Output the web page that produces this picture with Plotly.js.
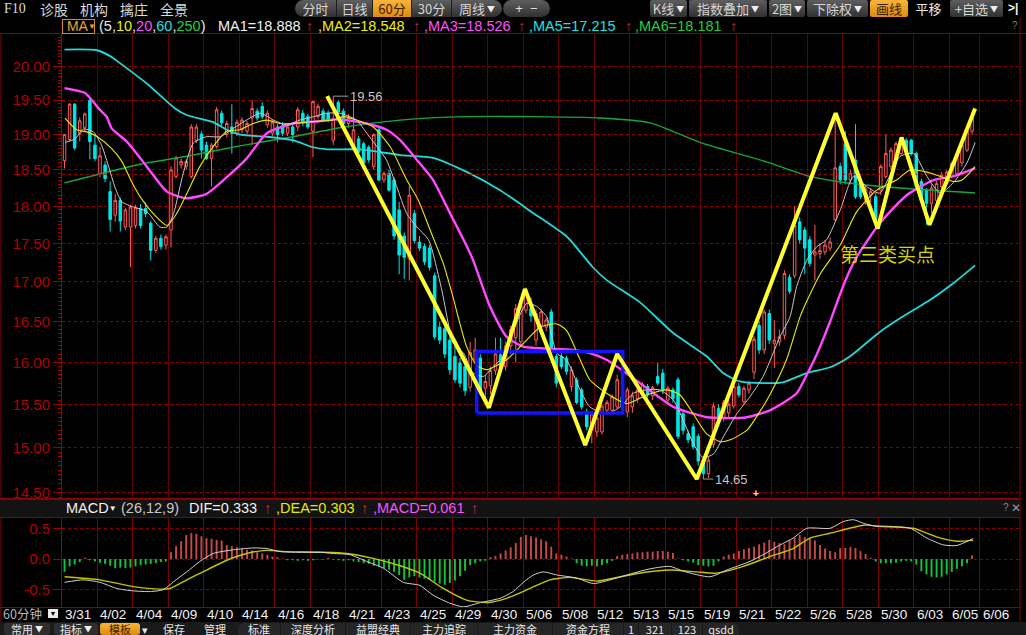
<!DOCTYPE html>
<html>
<head>
<meta charset="utf-8">
<script src="https://cdn.plot.ly/plotly-3.0.1.min.js"></script>
<style>
html,body{margin:0;padding:0;background:#000;width:1026px;height:635px;overflow:hidden;}
#chart{position:absolute;left:0;top:0;width:1026px;height:635px;}
.ov{position:absolute;z-index:10;white-space:nowrap;font-family:"Liberation Sans",Arial,sans-serif;pointer-events:none;}
.cn{font-family:"Noto Sans CJK SC","Liberation Sans",sans-serif;}
.grp{position:absolute;top:0;height:17px;border-radius:9px;overflow:hidden;background:linear-gradient(#5e5e5e,#303030);z-index:10;}
.b{position:absolute;top:0;height:17px;line-height:17px;font-size:13px;color:#d6d6d6;text-align:center;font-family:"Noto Sans CJK SC","Liberation Sans",sans-serif;border-right:1px solid #1e1e1e;box-sizing:border-box;}
.sq{position:absolute;top:0;height:17px;line-height:17px;font-size:13px;color:#d6d6d6;text-align:center;font-family:"Noto Sans CJK SC","Liberation Sans",sans-serif;background:linear-gradient(#5e5e5e,#303030);border-radius:2px;z-index:10;}
.or{background:linear-gradient(#f8b53a,#e08a10)!important;color:#3c1c00!important;}
.dd{font-size:8px;vertical-align:2px;margin-left:2px;color:#eee;}
.lg{position:absolute;top:18px;height:16px;line-height:16px;font-size:14.5px;z-index:10;white-space:nowrap;font-family:"Liberation Sans",Arial,sans-serif;}
.up{color:#d42a2a;}
.tab{position:absolute;top:623px;height:12px;line-height:12px;font-size:11px;color:#e6e6e6;text-align:center;font-family:"Noto Sans CJK SC","Liberation Sans",sans-serif;z-index:10;white-space:nowrap;}
</style>
</head>
<body>
<div id="chart"></div>

<!-- top toolbar -->
<div class="ov" style="left:4px;top:0;line-height:18px;font-size:14px;color:#dadada;font-family:'Liberation Serif',serif;">F10</div>
<div class="ov cn" style="left:40px;top:0;line-height:18px;font-size:14px;color:#dadada;">诊股</div>
<div class="ov cn" style="left:80px;top:0;line-height:18px;font-size:14px;color:#dadada;">机构</div>
<div class="ov cn" style="left:120px;top:0;line-height:18px;font-size:14px;color:#dadada;">擒庄</div>
<div class="ov cn" style="left:160px;top:0;line-height:18px;font-size:14px;color:#dadada;">全景</div>
<div class="grp" style="left:295px;width:207px;">
  <div class="b" style="left:0;width:42px;">分时</div>
  <div class="b" style="left:42px;width:36px;">日线</div>
  <div class="b or" style="left:78px;width:39px;">60分</div>
  <div class="b" style="left:117px;width:40px;">30分</div>
  <div class="b" style="left:157px;width:50px;border-right:none;">周线<span class="dd">▼</span></div>
</div>
<div class="ov" style="left:503px;top:0;width:47px;height:17px;border-radius:9px;background:linear-gradient(#5e5e5e,#303030);"></div>
<div class="ov" style="left:503px;top:1px;width:47px;line-height:15px;font-size:13px;color:#e0e0e0;text-align:center;">+&nbsp;&nbsp;−</div>
<div class="sq" style="left:650px;width:37px;">K线<span class="dd">▼</span></div>
<div class="sq" style="left:689px;width:78px;">指数叠加<span class="dd">▼</span></div>
<div class="sq" style="left:769px;width:36px;">2图<span class="dd">▼</span></div>
<div class="sq" style="left:807px;width:61px;">下除权<span class="dd">▼</span></div>
<div class="sq or" style="left:870px;width:38px;">画线</div>
<div class="ov cn" style="left:910px;top:0;width:37px;line-height:17px;font-size:13px;color:#e8e8e8;text-align:center;">平移</div>
<div class="sq" style="left:950px;width:53px;">+自选<span class="dd">▼</span></div>
<div class="ov" style="left:1008px;top:0;line-height:17px;font-size:12px;font-weight:bold;color:#f0f0f0;">&gt;|</div>

<!-- moving average legend row -->
<div class="lg" style="left:62px;top:19px;width:31px;height:13px;line-height:13px;border:1px solid #d88a1a;color:#f0a030;font-size:14px;">&nbsp;MA<span style="font-size:8px;vertical-align:2px;color:#f0a030;">▼</span></div>
<div class="lg" style="left:99px;color:#e8e8e8;">(5,<span style="color:#f0f000">10</span>,<span style="color:#ff50ff">20</span>,<span style="color:#20e0e0">60</span>,<span style="color:#20d040">250</span>)</div>
<div class="lg" style="left:218px;color:#f0f0f0;">MA1=18.888</div>
<div class="lg up" style="left:306px;">↑</div>
<div class="lg" style="left:318px;color:#f0f000;">,MA2=18.548</div>
<div class="lg up" style="left:413px;">↑</div>
<div class="lg" style="left:424px;color:#ff50ff;">,MA3=18.526</div>
<div class="lg up" style="left:518px;">↑</div>
<div class="lg" style="left:529px;color:#20e0e0;">,MA5=17.215</div>
<div class="lg up" style="left:625px;">↑</div>
<div class="lg" style="left:635px;color:#20d040;">,MA6=18.181</div>
<div class="lg up" style="left:730px;">↑</div>
<div class="ov" style="left:1012px;top:20px;font-size:10px;color:#777;">?</div>

<!-- resize handle -->
<div class="ov" style="left:753px;top:488px;font-size:10px;font-weight:bold;color:#f0f0f0;">+</div>

<!-- MACD header -->
<div class="ov" style="left:0;top:499px;width:1020px;height:17px;background:#131313;border-top:1px solid #8c0000;border-bottom:1px solid #8c0000;z-index:8;"></div>
<div class="lg" style="top:500px;left:66px;color:#f0f0f0;">MACD<span style="font-size:8px;vertical-align:2px;">▼</span></div>
<div class="lg" style="top:500px;left:121px;color:#c8c8c8;">(26,12,9)</div>
<div class="lg" style="top:500px;left:189px;color:#f0f0f0;">DIF=0.333</div>
<div class="lg up" style="top:500px;left:264px;">↑</div>
<div class="lg" style="top:500px;left:276px;color:#e8e800;">,DEA=0.303</div>
<div class="lg up" style="top:500px;left:361px;">↑</div>
<div class="lg" style="top:500px;left:373px;color:#ff50ff;">,MACD=0.061</div>
<div class="lg up" style="top:500px;left:471px;">↑</div>
<div class="ov" style="left:1003px;top:502px;font-size:10px;color:#888;">?</div>
<div class="ov" style="left:1011px;top:501px;font-size:12px;color:#999;">✕</div>

<!-- period selector -->
<div class="ov cn" style="left:3px;top:607px;line-height:13px;font-size:12.5px;color:#b8b8b8;">60分钟</div>
<div class="ov" style="left:48px;top:609px;width:10px;height:9px;line-height:9px;background:#e8e8e8;color:#000;font-size:7px;text-align:center;">▼</div>

<!-- bottom toolbar -->
<div class="ov" style="left:0;top:622px;width:1026px;height:13px;background:#1a1a1a;z-index:9;"></div>
<div class="tab" style="left:4px;width:46px;background:#2e2e2e;border-radius:3px;">常用<span class="dd">▼</span></div>
<div class="tab" style="left:54px;width:44px;background:#2e2e2e;border-radius:3px;">指标<span class="dd">▼</span></div>
<div class="tab" style="left:100px;width:40px;background:linear-gradient(#f8b53a,#e08a10);color:#3c1c00;border-radius:3px;">模板</div>
<div class="tab" style="left:140px;width:10px;">▾</div>
<div class="tab" style="left:158px;width:32px;">保存</div>
<div class="tab" style="left:198px;width:34px;">管理</div>
<div class="tab" style="left:238px;width:42px;background:#262626;border-radius:6px 0 0 0;">标准</div>
<div class="tab" style="left:281px;width:64px;background:#262626;">深度分析</div>
<div class="tab" style="left:346px;width:64px;background:#262626;">益盟经典</div>
<div class="tab" style="left:411px;width:66px;background:#262626;">主力追踪</div>
<div class="tab" style="left:478px;width:74px;background:#262626;">主力资金</div>
<div class="tab" style="left:553px;width:70px;background:#262626;">资金方程</div>
<div class="tab" style="left:624px;width:14px;background:#262626;">1</div>
<div class="tab" style="left:639px;width:32px;background:#262626;">321</div>
<div class="tab" style="left:672px;width:30px;background:#262626;">123</div>
<div class="tab" style="left:703px;width:36px;background:#262626;border-radius:0 6px 0 0;">qsdd</div>

<script>
// ---- 60-minute bars ----
const opens = [18.63,18.93,19.44,19.02,19.10,19.50,18.85,18.45,18.57,18.20,17.88,18.08,17.72,17.72,17.74,17.97,17.97,17.77,17.41,17.57,
17.48,17.68,18.41,18.57,18.55,18.41,18.92,19.01,18.85,18.66,18.83,19.31,19.00,19.11,19.02,19.07,19.05,19.24,19.34,19.41,
19.14,19.02,19.11,19.13,19.02,19.11,19.11,19.31,19.26,19.05,19.26,19.34,19.31,18.92,19.47,19.34,19.16,18.83,18.94,18.87,
18.82,18.55,19.07,18.36,18.45,18.36,17.95,17.60,17.30,17.90,17.52,17.46,17.44,17.08,16.43,16.41,16.27,16.07,15.99,15.95,
15.70,16.03,16.05,15.69,15.72,15.90,16.09,15.95,16.20,16.30,16.25,16.64,16.66,16.27,16.45,16.43,16.62,16.07,16.07,16.05,
15.71,15.79,15.67,15.41,15.20,15.18,15.18,15.43,15.43,15.47,15.59,15.41,15.47,15.57,15.61,15.71,15.60,15.83,15.87,15.55,
15.67,15.79,15.39,15.16,15.24,15.13,14.86,14.71,15.04,15.45,15.34,15.40,15.48,15.71,15.53,15.67,15.88,16.45,16.15,16.60,
16.23,16.25,16.33,17.06,17.08,17.79,17.68,17.55,17.35,17.37,17.39,17.44,17.82,18.55,18.87,18.36,18.64,18.29,18.08,18.15,
18.13,18.22,18.41,18.55,18.68,18.73,18.92,18.92,18.73,18.34,18.22,18.04,18.08,18.27,18.31,18.41,18.45,18.60,18.78,19.05];
const highs = [19.01,19.46,19.46,19.25,19.32,19.53,19.00,18.83,18.62,18.34,18.17,18.12,17.98,18.02,18.02,18.03,18.05,17.80,17.60,17.62,
17.62,18.55,18.70,18.66,18.65,19.15,19.15,19.05,18.90,18.88,19.40,19.35,19.20,19.44,19.22,19.25,19.20,19.50,19.38,19.47,
19.35,19.22,19.15,19.18,19.15,19.15,19.40,19.36,19.30,19.50,19.45,19.38,19.35,19.56,19.50,19.38,19.30,19.50,18.98,18.90,
18.85,19.02,19.10,18.48,18.50,18.40,18.06,17.65,18.28,17.95,17.60,17.50,17.48,17.12,16.50,16.45,16.32,16.25,16.05,16.00,
16.25,16.30,16.10,15.85,15.95,16.30,16.30,16.25,16.45,16.72,16.80,16.93,16.80,16.65,16.66,16.55,16.66,16.10,16.12,16.08,
15.95,15.82,15.70,15.45,15.42,15.36,15.50,15.55,15.62,15.85,15.65,15.70,15.65,15.70,15.76,15.74,15.72,15.99,15.92,15.72,
15.70,15.82,15.42,15.20,15.28,15.16,14.90,14.90,15.52,15.50,15.55,15.55,15.75,15.75,15.72,15.78,16.32,16.50,16.65,16.65,
16.52,16.40,17.15,17.10,18.00,17.85,17.72,17.60,17.75,17.50,17.55,17.58,19.28,18.60,19.05,18.50,19.15,18.32,18.28,18.25,
18.18,18.58,19.00,18.82,18.90,18.96,18.95,18.94,18.76,18.38,18.25,18.30,18.35,18.47,18.50,18.62,18.75,18.88,19.08,19.32];
const lows = [18.52,18.90,18.78,18.90,19.05,18.65,18.62,18.40,18.33,17.66,17.79,17.66,17.68,17.19,17.70,17.70,17.85,17.28,17.38,17.42,
17.42,17.45,18.38,18.52,18.50,18.38,18.88,18.66,18.64,18.27,18.80,19.12,18.96,18.73,18.98,19.02,19.00,18.85,19.20,19.22,
19.10,18.98,18.89,18.98,18.98,18.89,19.05,19.12,19.08,18.68,19.22,19.18,19.18,18.85,19.30,19.14,19.10,18.80,18.72,18.58,
18.60,18.50,18.34,18.32,18.20,17.55,17.10,17.04,17.02,17.50,17.40,17.22,17.15,16.28,16.22,16.05,15.85,15.75,15.70,15.60,
15.65,15.98,15.60,15.55,15.62,15.85,15.88,15.90,16.10,16.00,16.20,16.60,16.50,16.20,16.40,16.38,16.10,15.70,15.92,15.85,
15.65,15.50,15.44,15.20,15.05,15.12,15.15,15.40,15.40,15.45,15.45,15.35,15.40,15.52,15.58,15.58,15.55,15.72,15.62,15.50,
15.52,15.10,15.15,15.05,14.98,14.80,14.65,14.66,15.00,15.30,15.30,15.35,15.45,15.58,15.50,15.62,15.80,16.10,16.10,16.22,
15.93,16.20,16.28,16.85,17.05,17.50,17.10,17.20,17.02,17.30,17.35,17.40,17.80,18.30,18.30,18.30,18.10,18.10,18.02,18.05,
17.70,18.15,18.38,18.50,18.62,18.70,18.70,18.70,18.24,18.04,17.75,17.90,18.02,18.22,18.28,18.38,18.42,18.55,18.75,19.00];
const closes = [19.00,19.44,18.81,19.20,19.30,18.90,18.66,18.70,18.38,17.82,18.08,17.80,17.95,17.99,17.98,17.74,17.90,17.41,17.57,17.46,
17.59,18.50,18.67,18.62,18.62,19.11,19.11,18.78,18.66,18.85,19.36,19.17,19.16,19.02,19.18,19.21,19.16,19.38,19.24,19.26,
19.31,19.18,19.00,19.02,19.11,19.00,19.36,19.17,19.11,19.48,19.41,19.21,19.21,19.23,19.33,19.16,19.25,19.07,18.75,18.60,
18.64,19.00,18.36,18.45,18.22,17.60,17.35,17.32,18.15,17.54,17.44,17.26,17.19,16.31,16.27,16.10,15.91,15.79,15.75,15.66,
16.12,16.15,15.67,15.77,15.90,16.10,15.95,16.20,16.40,16.66,16.70,16.90,16.57,16.60,16.62,16.52,16.13,15.75,15.95,15.89,
15.91,15.52,15.47,15.24,15.39,15.34,15.48,15.52,15.59,15.79,15.47,15.67,15.60,15.67,15.73,15.61,15.70,15.75,15.67,15.69,
15.57,15.13,15.20,15.09,15.01,14.85,14.71,14.86,15.48,15.35,15.52,15.50,15.71,15.61,15.69,15.75,16.28,16.15,16.62,16.27,
16.27,16.31,17.11,16.88,17.74,17.55,17.44,17.24,17.39,17.41,17.48,17.52,18.53,18.36,18.36,18.45,18.13,18.13,18.24,18.20,
17.81,18.55,18.73,18.78,18.87,18.92,18.75,18.73,18.27,18.08,18.04,18.25,18.31,18.43,18.47,18.59,18.70,18.85,19.05,19.25];

// ---- moving averages (bar position, value) ----
const ma5X = [0.1,2.1,3.7,5.7,7.3,8.6,10,11.3,13.6,16.2,18.8,20.2,21.5,23.4,25.4,28,30.7,33.3,35.9,38.6,41.2,43.8,46.4,49.1,51.7,54.3,57.6,59.6,61.6,63.5,65.5,67.5,69.5,71.8,74.4,76.7,78.7,80.6,82.6,84.6,86.5,88.5,91.2,93.1,95.1,97.1,99,101.7,103.6,106.9,109.6,112.2,114.8,117.4,120.1,122,124,125.9,128,129.9,132.6,135.2,137.8,141.1,143.1,144.4,146.4,148.4,150.3,153,155.6,158.2,160.8,164.8,167.5,170.1,172.7,175.3,178,179.6];
const ma5Y = [18.89,18.94,19.08,19.04,18.85,18.57,18.25,18.06,17.99,17.93,17.72,17.72,17.90,18.45,18.88,18.97,18.97,19.09,19.21,19.31,19.21,19.14,19.21,19.26,19.31,19.31,19.21,19.02,18.83,18.64,18.27,17.90,17.72,17.55,16.90,16.23,16.11,15.87,15.83,15.95,16.07,16.39,16.73,16.69,16.56,16.11,16.03,15.67,15.47,15.39,15.47,15.63,15.67,15.67,15.55,15.32,15.05,14.89,14.93,15.12,15.39,15.59,15.83,16.31,16.56,16.94,17.28,17.46,17.55,17.95,18.41,18.27,18.18,18.69,18.73,18.41,18.18,18.32,18.60,18.888];
const ma10X = [0.1,2.4,4.4,6.7,9.3,11.3,13.2,15.2,17.5,20.2,22.1,24.1,26.7,29.3,32,34.6,37.2,39.9,42.5,45.1,49.1,53,55,57.6,60.9,64.2,67.5,69.8,72.4,74.7,76.4,79.3,81.3,83.3,85.2,87.2,90.5,93.8,97.1,99,101.7,103.6,106.9,110.9,114.8,118.8,121.4,124,126.6,129.3,131.3,134.6,137.3,139.1,142.4,145.2,149.1,153,156.2,160.2,164.1,166.8,170.1,172.7,175.3,177,179.6];
const ma10Y = [19.24,19.07,19.04,18.96,18.80,18.62,18.34,18.10,17.90,17.74,17.90,18.17,18.55,18.83,19.05,19.07,19.16,19.21,19.16,19.16,19.19,19.21,19.26,19.21,19.11,18.83,18.36,18.08,17.63,17.24,16.86,16.19,15.96,15.91,15.96,16.03,16.23,16.43,16.47,16.39,16.03,15.79,15.63,15.51,15.61,15.67,15.61,15.39,15.16,15.07,15.09,15.20,15.43,15.61,16.03,16.58,17.11,17.48,17.92,18.22,18.36,18.50,18.47,18.41,18.34,18.36,18.548];
const ma20X = [0,4,5.4,6.7,8.3,9.3,12.3,16.2,20.2,24.1,28,32,35.9,39.9,45.1,49.7,54.3,59.6,63.5,66.2,69.5,72.7,76,79.3,80.6,83.9,87.2,90.5,93.8,100.4,103.6,106.9,113.5,120.1,126.7,130,134.6,139.1,144.4,146.4,148.4,151,153,154.9,156.2,160.8,166.1,171.4,175.2,179.6];
const ma20Y = [19.68,19.61,19.50,19.38,19.26,19.09,18.90,18.55,18.20,18.11,18.17,18.40,18.66,19.02,19.16,19.19,19.22,19.16,19.07,18.92,18.64,18.36,17.91,17.47,17.28,16.69,16.31,16.19,16.17,16.15,16.11,16.03,15.75,15.47,15.35,15.34,15.35,15.43,15.63,15.85,16.10,16.50,16.85,17.15,17.32,17.77,18.15,18.36,18.41,18.526];
const ma60X = [0,6.4,9,11,16.5,21.8,24.2,29.3,32,34.6,40,45,49,51.8,58.3,66.2,72.7,79.4,85.9,92.4,99.1,104.2,107,113.5,120,126.7,129.9,133.2,139.1,141.7,146.4,151,154.9,160.8,165.8,170.7,175.6,179.6];
const ma60Y = [20.26,20.25,20.16,20.05,19.73,19.38,19.28,19.18,19.07,19.00,18.97,18.92,18.82,18.79,18.79,18.71,18.67,18.47,18.22,17.91,17.59,17.19,17.02,16.74,16.36,16.07,15.87,15.77,15.75,15.76,15.87,15.94,16.07,16.37,16.58,16.77,17.00,17.215];
const ma250X = [0,14.9,24.7,34.6,45.1,54.3,66.2,79.4,92.4,105.6,115.5,125.3,138.6,147,153.5,164.8,179.6];
const ma250Y = [18.32,18.58,18.70,18.84,18.97,19.10,19.21,19.26,19.26,19.24,19.17,18.89,18.61,18.41,18.33,18.25,18.181];

// ---- MACD (26,12,9) ----
const macdHist = [-0.21,-0.12,-0.09,-0.05,0.02,-0.02,-0.04,-0.06,-0.08,-0.11,-0.15,-0.14,-0.15,-0.14,-0.12,-0.10,-0.09,-0.08,-0.07,-0.05,-0.04,
0.11,0.21,0.29,0.39,0.42,0.41,0.37,0.34,0.33,0.31,0.30,0.23,0.21,0.19,0.17,0.15,0.14,0.11,0.09,0.07,0.04,0.03,0.01,
-0.02,-0.02,-0.03,-0.02,-0.03,-0.02,-0.01,-0.01,0.02,-0.01,-0.02,-0.03,-0.02,-0.04,-0.05,-0.07,-0.08,
-0.11,-0.12,-0.15,-0.17,-0.21,-0.26,-0.34,-0.30,-0.28,-0.30,-0.32,-0.34,-0.37,-0.40,-0.42,-0.39,-0.35,-0.28,-0.19,-0.10,-0.07,-0.04,-0.03,
0.03,0.05,0.09,0.14,0.19,0.26,0.36,0.39,0.37,0.35,0.32,0.29,0.20,0.09,0.07,0.04,0.01,
-0.07,-0.11,-0.12,-0.11,-0.12,-0.10,-0.07,-0.03,
0.05,0.07,0.08,0.09,0.11,0.11,0.12,0.12,0.13,0.13,0.12,0.10,0.01,
-0.02,-0.04,-0.06,-0.10,-0.11,-0.12,-0.11,-0.04,
0.04,0.07,0.09,0.13,0.16,0.18,0.20,0.24,0.27,0.31,0.28,0.26,0.24,0.31,0.35,0.39,0.36,0.34,0.30,0.23,0.17,0.13,0.11,0.18,0.18,0.20,0.18,0.13,0.08,0.02,
-0.04,-0.07,-0.07,-0.07,-0.06,-0.04,-0.03,-0.04,-0.09,-0.20,-0.25,-0.29,-0.30,-0.29,-0.25,-0.21,-0.16,-0.12,-0.07,
0.061];
const difX = [0,3.7,7,10.3,13.6,16.9,19.5,21.5,24.1,26.7,29.3,33.3,37.2,39.9,42.5,46.4,50.4,53,56.3,59.6,62.9,66.8,70.1,72.7,76,78.7,82,85.9,88.5,90.5,92.5,94.4,97.1,101,104.3,107.6,110.9,115.5,119.4,122.1,127.3,130.6,135.2,137.8,140.5,143.7,146.4,151,153.6,155.6,157.6,160.2,166.8,170.1,173.3,176,179.2];
const difY = [-0.38,-0.34,-0.38,-0.48,-0.52,-0.53,-0.50,-0.37,-0.21,-0.04,0.09,0.15,0.18,0.17,0.12,0.11,0.11,0.09,0.07,-0.04,-0.15,-0.38,-0.43,-0.59,-0.72,-0.78,-0.71,-0.64,-0.53,-0.38,-0.26,-0.21,-0.26,-0.31,-0.40,-0.34,-0.26,-0.16,-0.12,-0.20,-0.29,-0.18,-0.04,0.07,0.20,0.34,0.50,0.50,0.61,0.64,0.58,0.53,0.50,0.34,0.23,0.22,0.333];
const deaX = [0,7,13.6,18.8,20.8,24.1,28,32,35.9,39.9,43.8,50.4,55.7,60.9,66.2,70.1,74.7,79.3,83.3,87.2,91.8,95.7,99.7,105,109.6,114.2,119.4,124.7,128.6,133.9,139.1,143.7,147,151,157.6,160.2,167.4,172,176,179.2];
const deaY = [-0.29,-0.34,-0.45,-0.49,-0.48,-0.34,-0.18,-0.02,0.09,0.14,0.12,0.11,0.09,0.01,-0.11,-0.23,-0.48,-0.67,-0.71,-0.64,-0.48,-0.34,-0.30,-0.36,-0.29,-0.22,-0.18,-0.21,-0.23,-0.12,0.04,0.17,0.34,0.42,0.55,0.54,0.50,0.36,0.29,0.303];

// ---- hand-drawn wave strokes and pivot box ----
const waveX = [51.8,83.7,90.8,102.7,109.0,124.7,152.1,160.4,165.1,170.6,179.6];
const waveY = [19.56,15.46,16.91,15.03,16.10,14.65,19.31,17.70,18.96,17.75,19.38];
const boxX = [81.3,110.1];
const boxY = [15.40,16.13];
const refPrice = 18.44;
const highMark = {bar: 53, price: 19.56};
const lowMark = {bar: 126, price: 14.65};
const buyNote = {bar: 152.6, price: 17.37, text: '第三类买点'};

// ---- date axis ----
const tickLabels = ['3/31','4/02','4/04','4/09','4/10','4/14','4/16','4/18','4/21','4/23','4/25','4/29','4/30','5/06','5/08','5/12','5/13','5/15','5/19','5/21','5/22','5/26','5/28','5/30','6/03','6/05','6/06'];
const tickBars = [-0.5,6.5,13.5,20.5,27.5,34.5,41.5,48.5,55.5,62.5,69.5,76.5,83.5,90.5,97.5,104.5,111.5,118.5,125.5,132.5,139.5,146.5,153.5,160.5,167.5,174.5,180.5];
const priceTicks = [14.5,15,15.5,16,16.5,17,17.5,18,18.5,19,19.5,20];
const macdTicks = [-0.5,0,0.5];

// ---- geometry of the window ----
const W = 1026, H = 635;
const px = v => v / W;
const py = v => 1 - v / H;
const plotLeft = 62, plotRight = 1020, barPx = 5.07;
const xRange = [-0.5, -0.5 + (plotRight - plotLeft) / barPx];
const mainTop = 34, mainBottom = 498, pxPerDecade = 3050, ref20y = 66.7;
const yRange = [Math.log10(20) - (mainBottom - ref20y) / pxPerDecade, Math.log10(20) + (ref20y - mainTop) / pxPerDecade];
const macdTop = 518, macdBottom = 607, macdZeroY = 559, macdPxPerUnit = 61.4;
const y2Range = [-(macdBottom - macdZeroY) / macdPxPerUnit, (macdZeroY - macdTop) / macdPxPerUnit];

const bars = opens.map((_, i) => i);
const FONT = 'Liberation Sans, Arial, sans-serif';

const maLine = (x, y, color, width) => ({
  type: 'scatter', mode: 'lines', x: x, y: y, xaxis: 'x', yaxis: 'y',
  line: {color: color, width: width, shape: 'spline', smoothing: 0.6}, hoverinfo: 'skip'
});

const traces = [
  maLine(ma250X, ma250Y, '#14a83a', 1.4),
  maLine(ma60X, ma60Y, '#22d8d8', 1.8),
  {type: 'scatter', mode: 'lines', x: [xRange[0], xRange[1]], y: [refPrice, refPrice], xaxis: 'x', yaxis: 'y',
   line: {color: '#b00000', width: 1, dash: '3px,3px'}, hoverinfo: 'skip'},
  {type: 'candlestick', x: bars, open: opens, high: highs, low: lows, close: closes, xaxis: 'x', yaxis: 'y',
   whiskerwidth: 0,
   increasing: {line: {color: '#ff5c5c', width: 1}, fillcolor: '#000000'},
   decreasing: {line: {color: '#00e6e6', width: 1}, fillcolor: '#00e6e6'},
   hoverinfo: 'skip'},
  maLine(ma20X, ma20Y, '#ff48ff', 2.4),
  maLine(ma10X, ma10Y, '#ecec00', 1.1),
  maLine(ma5X, ma5Y, '#c8c8c8', 1),
  {type: 'scatter', mode: 'lines', x: [boxX[0], boxX[1], boxX[1], boxX[0], boxX[0]],
   y: [boxY[0], boxY[0], boxY[1], boxY[1], boxY[0]], xaxis: 'x', yaxis: 'y',
   line: {color: '#1414ff', width: 3.5}, hoverinfo: 'skip'},
  {type: 'scatter', mode: 'lines', x: waveX, y: waveY, xaxis: 'x', yaxis: 'y',
   line: {color: '#ffff30', width: 4}, hoverinfo: 'skip'},
  {type: 'bar', x: bars, y: macdHist, xaxis: 'x2', yaxis: 'y2', width: 0.38,
   marker: {color: macdHist.map(v => v >= 0 ? '#c84848' : '#12c43a'), line: {width: 0}}, hoverinfo: 'skip'},
  {type: 'scatter', mode: 'lines', x: deaX, y: deaY, xaxis: 'x2', yaxis: 'y2',
   line: {color: '#c4c400', width: 1.4, shape: 'spline', smoothing: 0.6}, hoverinfo: 'skip'},
  {type: 'scatter', mode: 'lines', x: difX, y: difY, xaxis: 'x2', yaxis: 'y2',
   line: {color: '#d2d2d2', width: 1, shape: 'spline', smoothing: 0.6}, hoverinfo: 'skip'}
];

const xCommon = {
  range: xRange, domain: [px(plotLeft), px(plotRight)], tickmode: 'array', tickvals: tickBars,
  showticklabels: false, ticks: '', showgrid: true, gridwidth: 1, zeroline: false, showline: false,
  fixedrange: true, rangeslider: {visible: false}
};
const yCommon = {
  tickmode: 'array', showline: true, linecolor: '#9a0000', linewidth: 1, ticks: 'outside', ticklen: 8,
  tickcolor: '#a00000', tickwidth: 1, tickfont: {family: FONT, size: 15, color: '#b00000'},
  showgrid: true, gridcolor: '#8a0000', griddash: 'dot', gridwidth: 1, zeroline: false, fixedrange: true
};

const line = (x0, y0, x1, y1) => ({type: 'line', xref: 'paper', yref: 'paper', x0: px(x0), y0: py(y0), x1: px(x1), y1: py(y1),
  line: {color: '#8c0000', width: 1}, layer: 'above'});

const annotations = tickLabels.map((t, i) => ({
  xref: 'x', yref: 'paper', x: tickBars[i], y: py(614), xanchor: 'left', yanchor: 'middle', xshift: 2,
  text: t, showarrow: false, borderpad: 0, font: {family: FONT, size: 13.5, color: '#f2f2f2'}
}));
annotations.push(
  {xref: 'x', yref: 'y', x: highMark.bar, y: Math.log10(highMark.price), text: highMark.price.toFixed(2),
   showarrow: true, arrowhead: 0, arrowwidth: 1, arrowcolor: '#9c9c9c', ax: 15, ay: 0, xanchor: 'left', standoff: 0,
   font: {family: FONT, size: 13, color: '#c4c4c4'}},
  {xref: 'x', yref: 'y', x: lowMark.bar, y: Math.log10(lowMark.price), text: lowMark.price.toFixed(2),
   showarrow: true, arrowhead: 0, arrowwidth: 1, arrowcolor: '#9c9c9c', ax: 10, ay: 0, xanchor: 'left', standoff: 0,
   font: {family: FONT, size: 13, color: '#c4c4c4'}},
  {xref: 'x', yref: 'y', x: buyNote.bar, y: Math.log10(buyNote.price), text: buyNote.text, showarrow: false,
   xanchor: 'left', yanchor: 'middle', font: {family: 'Noto Sans CJK SC, sans-serif', size: 19, color: '#d6d600'}}
);

const layout = {
  width: W, height: H, margin: {l: 0, r: 0, t: 0, b: 0, pad: 0},
  paper_bgcolor: '#000000', plot_bgcolor: '#000000', showlegend: false, dragmode: false,
  xaxis: Object.assign({}, xCommon, {anchor: 'y', gridcolor: '#600000'}),
  xaxis2: Object.assign({}, xCommon, {anchor: 'y2', gridcolor: '#780000'}),
  yaxis: Object.assign({}, yCommon, {
    type: 'log', domain: [py(mainBottom), py(mainTop)], range: yRange, anchor: 'x',
    tickvals: priceTicks, ticktext: priceTicks.map(v => v.toFixed(2)),
    minor: {tickmode: 'linear', tick0: 14.5, dtick: 'L0.05', ticklen: 3, tickcolor: '#a00000', showgrid: false}
  }),
  yaxis2: Object.assign({}, yCommon, {
    domain: [py(macdBottom), py(macdTop)], range: y2Range, anchor: 'x2',
    tickvals: macdTicks, ticktext: macdTicks.map(v => v.toFixed(1))
  }),
  shapes: [
    line(0, 33.5, 1026, 33.5),
    line(0, 498.5, 1020, 498.5),
    line(0, 607.5, 1020, 607.5),
    line(1, 33.5, 1, 622),
    line(1020, 18, 1020, 622)
  ],
  annotations: annotations
};

Plotly.newPlot('chart', traces, layout, {staticPlot: true, displayModeBar: false});
</script>
</body>
</html>
